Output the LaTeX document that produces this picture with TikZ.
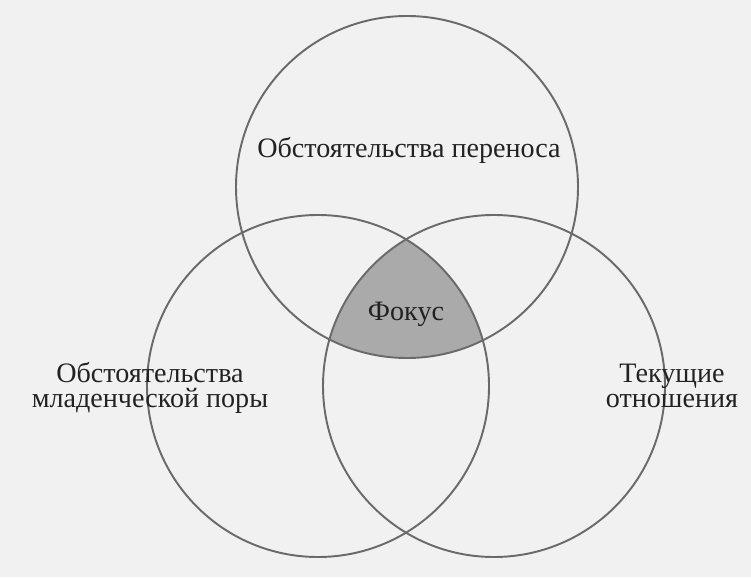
\documentclass[tikz,border=0pt]{standalone}
\usepackage{fontspec}
\setmainfont{Liberation Serif}
\pgfdeclarelayer{background}
\pgfsetlayers{background,main}
\definecolor{scan}{HTML}{F1F1F1}
\definecolor{ink}{HTML}{222222}
\definecolor{rim}{HTML}{6A6A6A}
\definecolor{focusgray}{HTML}{AAAAAA}
\tikzstyle{ring}=[draw=rim,line width=1.1pt]
\tikzstyle{area label}=[text=ink,font=\fontsize{16}{14.5}\selectfont,align=center,inner sep=0pt]
\tikzstyle{focus area}=[fill=focusgray]

\begin{document}
\begin{tikzpicture}
				\useasboundingbox (0,0) rectangle (15.02,11.54);

				% First we place the centres of the circles
				\foreach \pos/\name in {{(8.14,7.80)/transfer}, {(6.36,3.82)/infancy}, {(9.88,3.82)/current}}
				\path \pos coordinate (\name);

				% Draw the circles
				\foreach \name in {transfer, infancy, current}
				\path[ring] (\name) circle (3.42);

				% Names of the areas
				\node[area label, anchor=base] (transfer text) at (8.18,8.38) {Обстоятельства переноса};
				\node[area label, anchor=base] (focus text) at (8.12,5.14) {Фокус};
				\node[area label] (infancy text) at (3.00,3.78) {Обстоятельства\\младенческой поры};
				\node[area label] (current text) at (13.44,3.82) {Текущие\\отношения};

				\begin{pgfonlayer}{background}
					\fill[scan] (0,0) rectangle (15.02,11.54);
					\begin{scope}
						\clip (infancy) circle (3.42);
						\clip (current) circle (3.42);
						\path[focus area] (transfer) circle (3.42);
					\end{scope}
				\end{pgfonlayer}
			\end{tikzpicture}
\end{document}
